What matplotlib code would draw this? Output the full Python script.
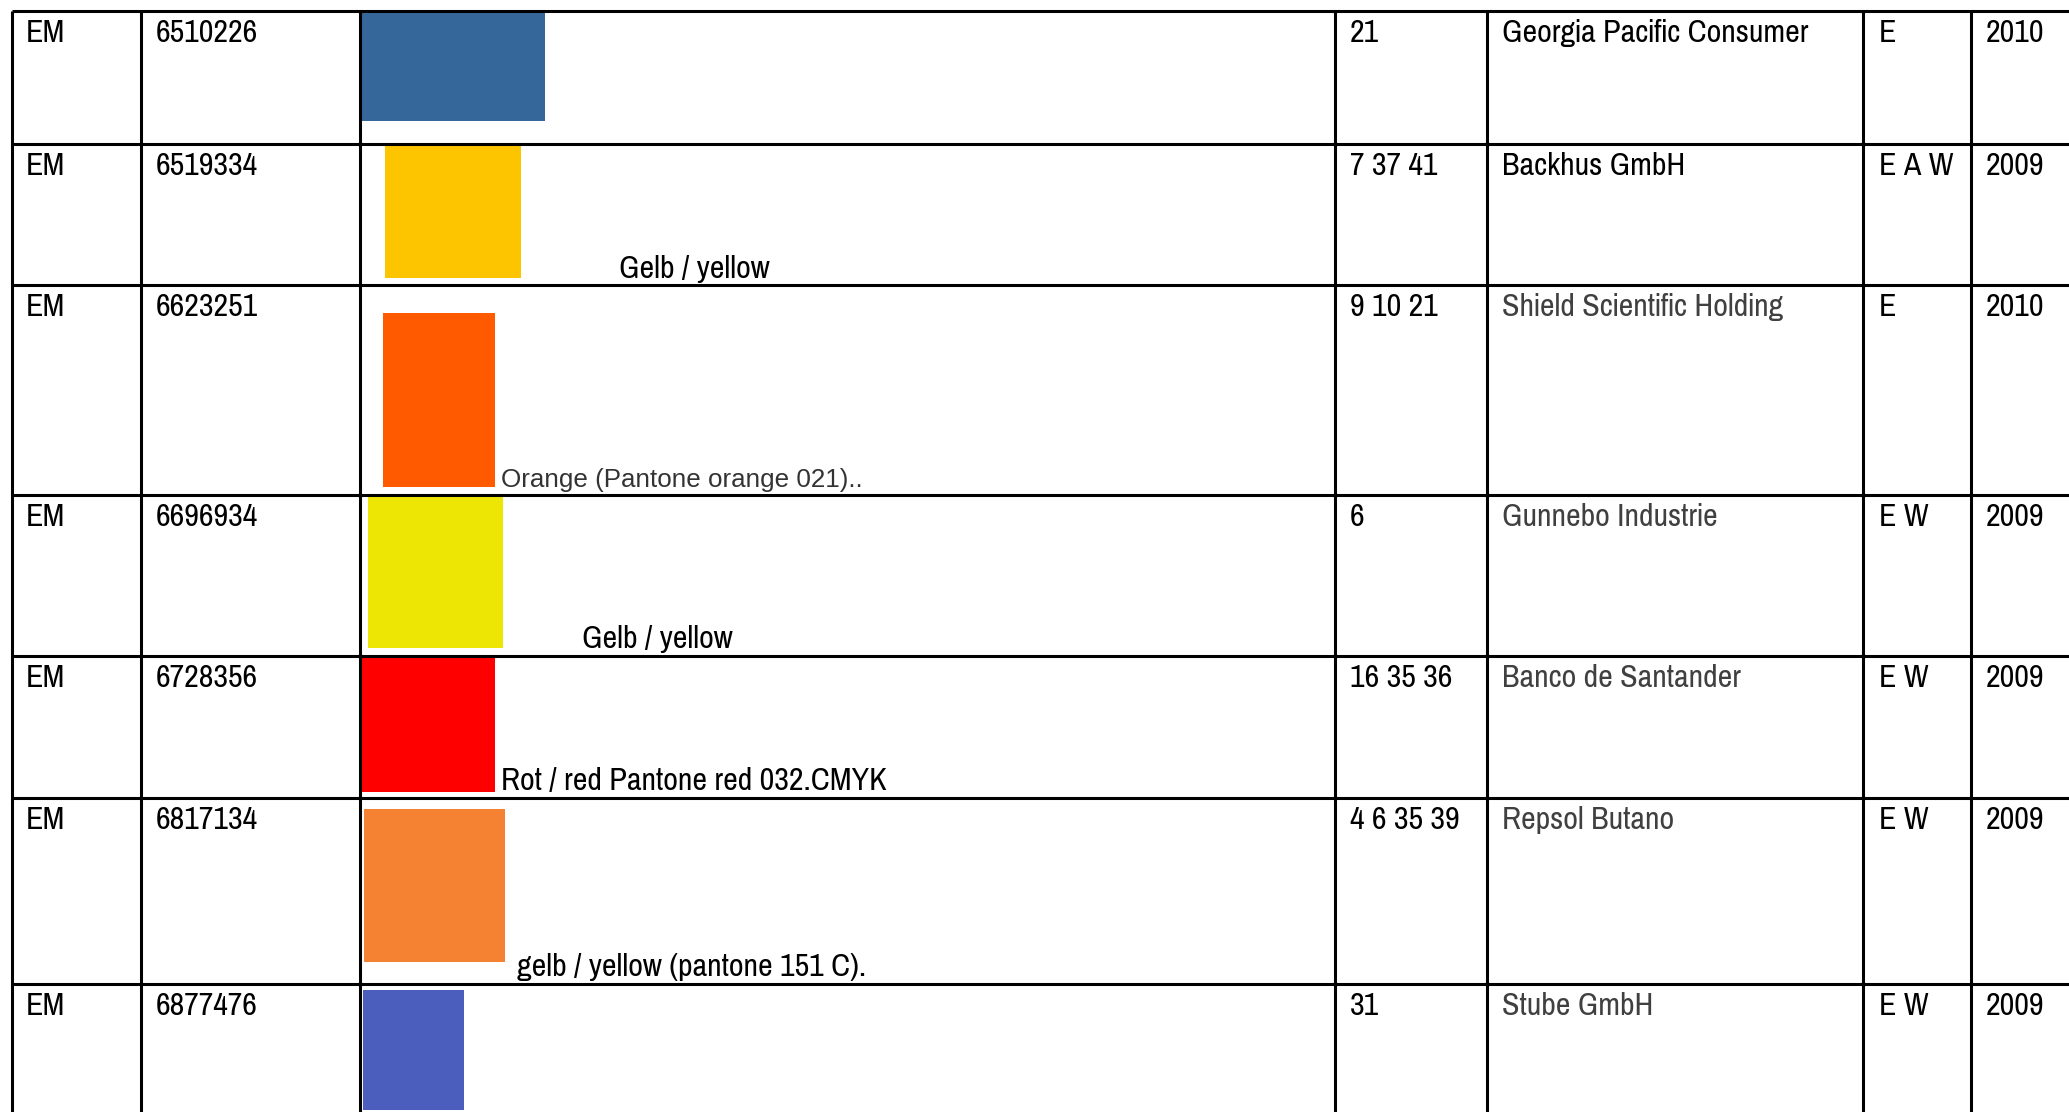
import matplotlib.pyplot as plt
from matplotlib.patches import Rectangle
from matplotlib import font_manager

# table content
offices = ["EM", "EM", "EM", "EM", "EM", "EM", "EM"]
numbers = ["6510226", "6519334", "6623251", "6696934", "6728356", "6817134", "6877476"]
classes = ["21", "7 37 41", "9 10 21", "6", "16 35 36", "4 6 35 39", "31"]
owners = ["Georgia Pacific Consumer", "Backhus GmbH", "Shield Scientific Holding",
          "Gunnebo Industrie", "Banco de Santander", "Repsol Butano", "Stube GmbH"]
owner_gray = [False, False, True, True, True, True, True]
kinds = ["E", "E A W", "E", "E W", "E W", "E W", "E W"]
years = ["2010", "2009", "2010", "2009", "2009", "2009", "2009"]
swatch_colors = ["#35679a", "#fdc400", "#ff5a00", "#ede604", "#ff0000", "#f58233", "#4b5dbd"]
captions = ["", "Gelb / yellow", "Orange (Pantone orange 021)..", "Gelb / yellow",
            "Rot / red Pantone red 032.CMYK", "gelb / yellow (pantone 151 C).", ""]

# layout (pixels)
W, H = 2069, 1112
col_x = [12, 141, 360, 1335, 1487, 1863, 1971]
row_y = [11, 144, 285, 495, 656, 798, 984]
text_x = [26, 156, None, 1350, 1502, 1879, 1986]
swatch_box = [(360, 11, 545, 121), (385, 144, 521, 278), (383, 313, 495, 487),
              (368, 496, 503, 648), (360, 656, 495, 792), (364, 809, 505, 962),
              (363, 990, 464, 1110)]
caption_pos = [None, (619, 278), (501, 487), (582, 648), (501, 790), (517, 976), None]

names = {f.name for f in font_manager.fontManager.ttflist}
narrow = next((f for f in ["Liberation Sans Narrow", "Arial Narrow", "Pragati Narrow",
                           "Archivo Narrow", "Roboto Condensed"] if f in names), "DejaVu Sans")

fig = plt.figure(figsize=(W / 100, H / 100), dpi=100)
ax = fig.add_axes([0, 0, 1, 1])
ax.set_xlim(0, W)
ax.set_ylim(H, 0)
ax.axis("off")


def fit_size(text, family, target_px, base=20):
    # scale font so that the string spans target_px pixels
    t = fig.text(0, 0, text, fontsize=base, family=family)
    w = t.get_window_extent(renderer=fig.canvas.get_renderer()).width
    t.remove()
    return base * target_px / w


fs = fit_size("Georgia Pacific Consumer", narrow, 306)
fs_orange = fit_size("Orange (Pantone orange 021)..", "Liberation Sans", 361)

lw = 2.2
for x in col_x:
    ax.plot([x, x], [row_y[0], H], color="black", lw=lw, solid_capstyle="butt")
for y in row_y:
    ax.plot([col_x[0], W], [y, y], color="black", lw=lw, solid_capstyle="butt")

for i in range(len(numbers)):
    x0, y0, x1, y1 = swatch_box[i]
    ax.add_patch(Rectangle((x0, y0), x1 - x0, y1 - y0, facecolor=swatch_colors[i],
                           edgecolor="none", zorder=1))
    base = row_y[i] + 31
    cells = [offices[i], numbers[i], None, classes[i], owners[i], kinds[i], years[i]]
    for j, t in enumerate(cells):
        if t is None:
            continue
        color = "#404040" if (j == 4 and owner_gray[i]) else "black"
        ax.text(text_x[j], base, t, fontsize=fs, family=narrow, color=color,
                va="baseline", ha="left", zorder=3)
    if captions[i]:
        cx, cy = caption_pos[i]
        if i == 2:
            ax.text(cx, cy, captions[i], fontsize=fs_orange, family="Liberation Sans",
                    color="#333333", va="baseline", ha="left", zorder=3)
        else:
            ax.text(cx, cy, captions[i], fontsize=fs, family=narrow, color="black",
                    va="baseline", ha="left", zorder=3)

fig.savefig("out.png", dpi=100, facecolor="white")
plt.close(fig)
